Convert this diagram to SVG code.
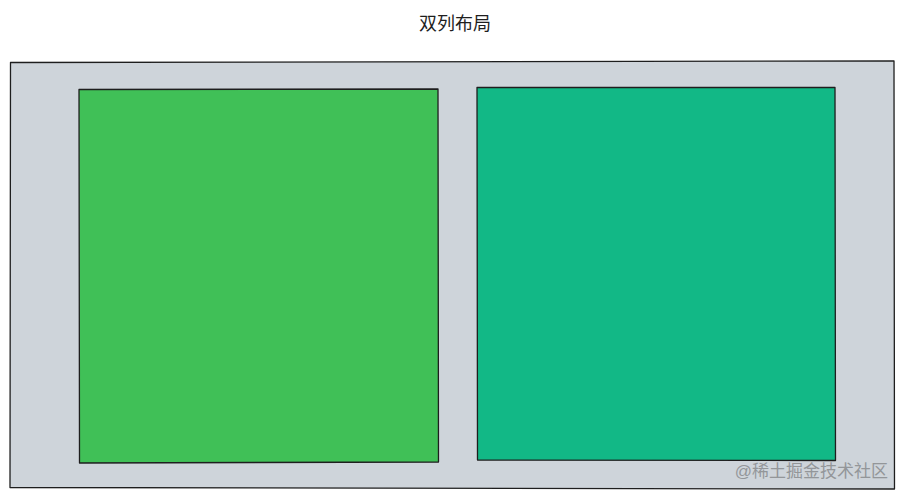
<svg xmlns="http://www.w3.org/2000/svg" width="905" height="498" viewBox="0 0 905 498">
<style>
.frame{stroke:#1e1e1e;stroke-width:1.3;stroke-linejoin:round}
.t{font-family:"Liberation Sans","Noto Sans CJK SC",sans-serif}
</style>
<rect width="905" height="498" fill="#ffffff"/>
<text class="t" x="455" y="30" font-size="18" text-anchor="middle" fill="#1e1e1e">双列布局</text>
<g id="container">
<path class="frame" d="M10.5 62.5 L894 61 L894.5 489 L10 487.5 Z" fill="#ced4da"/>
</g>
<g id="left-column">
<path class="frame" d="M79 89.5 L438 89 L438.5 462 L79.5 463 Z" fill="#40c057"/>
</g>
<g id="right-column">
<path class="frame" d="M477 87.5 L835 87.5 L835.5 460.5 L477.5 460 Z" fill="#12b886"/>
</g>
<g id="connectors"></g>
<text class="t" x="888" y="477" font-size="17" text-anchor="end" fill="#939699">@稀土掘金技术社区</text>
</svg>
